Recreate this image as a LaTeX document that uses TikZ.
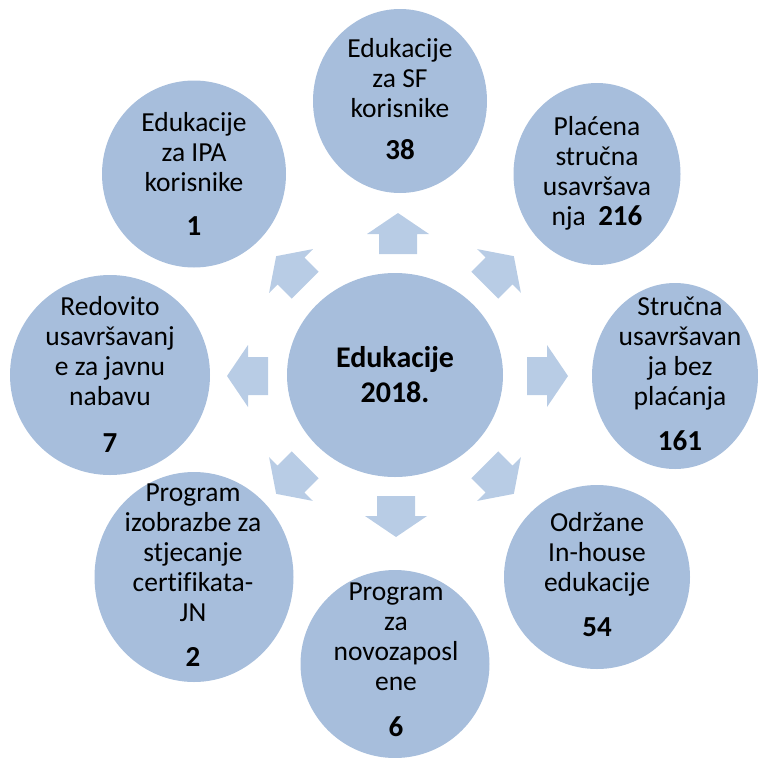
\documentclass[tikz,border=0pt]{standalone}
\usepackage{fontspec}
\setmainfont{Carlito}[Ligatures=NoCommon]
\usetikzlibrary{shapes.geometric}
\definecolor{circfill}{RGB}{167,190,220}
\definecolor{arrfill}{RGB}{184,204,229}
\setlength{\tabcolsep}{0pt}
\newcommand{\numtxt}[1]{{\fontsize{29}{30}\selectfont\bfseries #1}}
\tikzset{
  bubble/.style={ellipse, fill=circfill, inner sep=0pt, outer sep=0pt},
  lbl/.style={anchor=base, inner sep=0pt, font=\fontsize{27.5}{30}\selectfont, text=black},
  mainlbl/.style={anchor=base, inner sep=0pt, font=\fontsize{30}{35}\selectfont\bfseries, text=black},
  barrow/.pic={\fill[arrfill] (-20,-19) -- (0,-19) -- (0,-31) -- (21,0) -- (0,31) -- (0,19) -- (-20,19) -- cycle;}
}
\begin{document}
\begin{tikzpicture}[x=1pt,y=-1pt]
\useasboundingbox (0,0) rectangle (758,758);
% block arrows
\pic[rotate=90]  at (398,234) {barrow};
\pic[rotate=0]   at (547,376) {barrow};
\pic[rotate=-90] at (396,516) {barrow};
\pic[rotate=180] at (248,376) {barrow};
\pic[rotate=135] at (291,271) {barrow};
\pic[rotate=45]  at (499,271) {barrow};
\pic[rotate=225] at (291,479) {barrow};
\pic[rotate=-45] at (499,479) {barrow};
% bubbles
\node[bubble, minimum width=216pt, minimum height=204pt] (c)   at (395,375) {};
\node[bubble, minimum width=184pt, minimum height=187pt] (ipa) at (194,174) {};
\node[bubble, minimum width=174pt, minimum height=184pt] (sf)  at (400,101) {};
\node[bubble, minimum width=167pt, minimum height=182pt] (pl)  at (597,174) {};
\node[bubble, minimum width=166pt, minimum height=186pt] (sb)  at (675,376) {};
\node[bubble, minimum width=186pt, minimum height=184pt] (ih)  at (597,577) {};
\node[bubble, minimum width=189pt, minimum height=188pt] (nz)  at (395,664) {};
\node[bubble, minimum width=199pt, minimum height=210pt] (iz)  at (194,577) {};
\node[bubble, minimum width=200pt, minimum height=200pt] (rd)  at (110,375) {};
% texts
\node[mainlbl] (cT) at (395,367) {\begin{tabular}[t]{c}Edukacije\\2018.\end{tabular}};
\node[lbl] (ipaT) at (194,131) {\begin{tabular}[t]{c}Edukacije\\za IPA\\korisnike\\[14pt]\numtxt{1}\end{tabular}};
\node[lbl] (sfT) at (400,57) {\begin{tabular}[t]{c}Edukacije\\za SF\\korisnike\\[12pt]\numtxt{38}\end{tabular}};
\node[lbl] (plT) at (597,135) {\begin{tabular}[t]{c}Plaćena\\stručna\\usavršava\\nja\ \ \numtxt{216}\end{tabular}};
\node[lbl] (sbT) at (680,315) {\begin{tabular}[t]{c}Stručna\\usavršavan\\ja bez\\plaćanja\\[15pt]\numtxt{161}\end{tabular}};
\node[lbl] (ihT) at (597,531) {\begin{tabular}[t]{c}Održane\\In-house\\edukacije\\[15pt]\numtxt{54}\end{tabular}};
\node[lbl] (nzT) at (396,600) {\begin{tabular}[t]{c}Program\\za\\novozaposl\\ene\\[16pt]\numtxt{6}\end{tabular}};
\node[lbl] (izT) at (193,501) {\begin{tabular}[t]{c}Program\\izobrazbe za\\stjecanje\\certifikata-\\JN\\[15pt]\numtxt{2}\end{tabular}};
\node[lbl] (rdT) at (110,315) {\begin{tabular}[t]{c}Redovito\\usavršavanj\\e za javnu\\nabavu\\[17pt]\numtxt{7}\end{tabular}};
\end{tikzpicture}
\end{document}
